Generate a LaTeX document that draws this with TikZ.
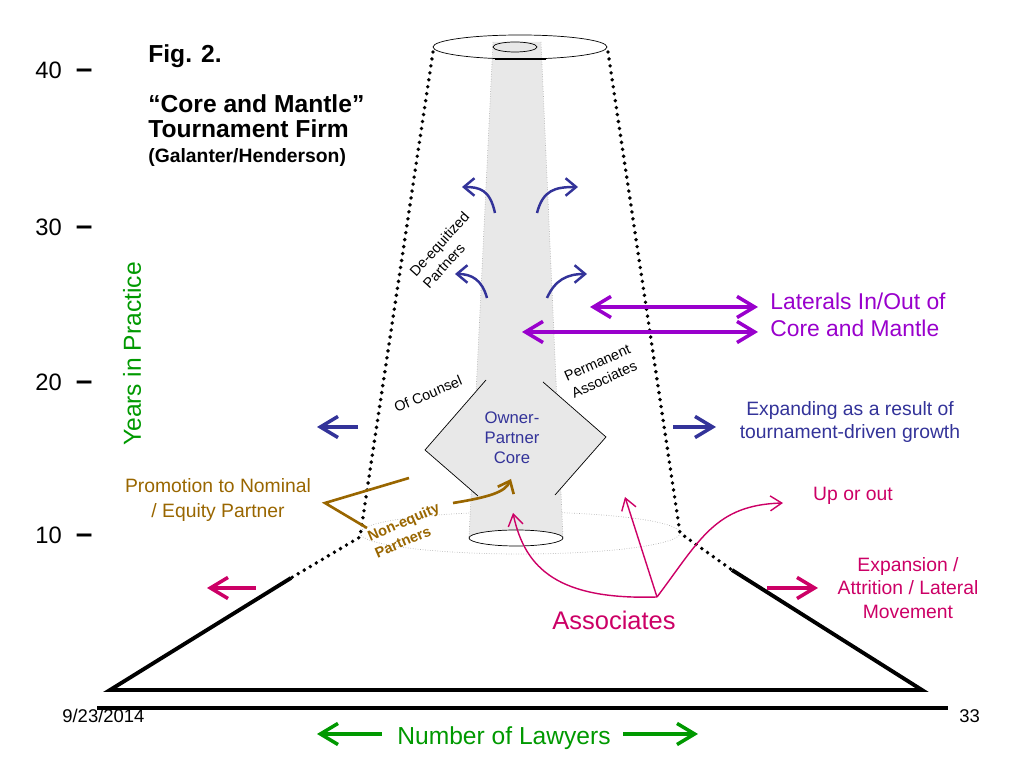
\documentclass[tikz,border=0pt]{standalone}
\usepackage{fontspec}
\setmainfont{Liberation Sans}
\usepackage{xcolor}
\usetikzlibrary{arrows.meta}

\definecolor{coreblue}{RGB}{51,51,153}
\definecolor{lateralpurple}{RGB}{153,0,204}
\definecolor{assocred}{RGB}{204,0,102}
\definecolor{promobrown}{RGB}{153,102,0}
\definecolor{axisgreen}{RGB}{0,153,0}
\definecolor{coregray}{RGB}{232,232,232}

\begin{document}
\begin{tikzpicture}[x=0.2mm, y=-0.2mm,
    txt/.style={inner sep=0pt, align=center},
    slanted/.style={inner sep=0pt, align=left, font=\fontsize{8.2}{10.3}\selectfont},
    yearmark/.style={anchor=west, inner sep=0pt, font=\fontsize{13.5}{15}\selectfont},
    headline/.style={anchor=base west, inner sep=0pt, font=\bfseries\fontsize{14}{16}\selectfont},
    mantle/.style={line width=2.2pt, line cap=round, dash pattern=on 0pt off 4pt},
    floor/.style={line width=2.2pt},
    bigarrow/.style={->, >={Straight Barb[length=10pt, width=12pt]}, line width=2pt},
    bothways/.style={<->, >={Straight Barb[length=10pt, width=12pt]}, line width=2pt},
    curly/.style={->, >={Straight Barb[length=6pt, width=10pt]}, line width=1.4pt},
    thinarrow/.style={->, >={Straight Barb[length=6.5pt, width=8.5pt]}, line width=0.8pt}
]
\useasboundingbox (0,0) rectangle (1024,768);

% axis marks and title
\foreach \yr/\yy in {40/70, 30/227, 20/382, 10/535}
  \node[yearmark] (y\yr) at (35,\yy) {\yr\hspace{8pt}{\bfseries\fontsize{17}{17}\selectfont –}};
\node[txt, rotate=90, axisgreen, font=\fontsize{14}{16}\selectfont] (years) at (132,354) {Years in Practice};
\node[headline] (fig) at (148,63) {Fig. 2.};
\node[headline] (core) at (148,113) {“Core and Mantle”};
\node[headline] (firm) at (148,138) {Tournament Firm};
\node[headline, font=\bfseries\fontsize{11}{12}\selectfont] (authors) at (148,163) {(Galanter/Henderson)};

% the core column
\coordinate (ctl) at (493,42);
\coordinate (ctr) at (541,42);
\coordinate (cbl) at (469,538);
\coordinate (cbr) at (563,538);
\coordinate (dl1) at (486,380);
\coordinate (dlv) at (425,450);
\coordinate (dl2) at (478,496);
\coordinate (dr1) at (543,382);
\coordinate (drv) at (606,437);
\coordinate (dr2) at (555,495);

\draw[gray!60, densely dotted, thin] (520,533) ellipse [x radius=160, y radius=21];
\fill[coregray] (ctl) -- (ctr) -- (cbr) -- (cbl) -- cycle;
\draw[gray!60, densely dotted, thin] (ctl) -- (cbl) (ctr) -- (cbr);
\fill[coregray] (dl1) -- (dlv) -- (dl2) -- (500,496) -- (500,380) -- cycle;
\fill[coregray] (dr1) -- (drv) -- (dr2) -- (530,495) -- (530,382) -- cycle;
\draw[thin] (dl1) -- (dlv) -- (dl2);
\draw[thin] (dr1) -- (drv) -- (dr2);

\draw[thin] (520,47) ellipse [x radius=87, y radius=12];
\draw[thin] (515,47) ellipse [x radius=22, y radius=5];
\draw[line width=1.6pt] (495,59) -- (546,59);
\draw[thin, fill=white] (516,538) ellipse [x radius=47, y radius=8];

% mantle and base
\coordinate (mtl) at (433,52);
\coordinate (mtr) at (608,52);
\coordinate (mbl) at (360,537);
\coordinate (mbr) at (680,533);
\coordinate (sl) at (291,578);
\coordinate (sr) at (732,570);
\coordinate (fl) at (110,690);
\coordinate (fr) at (922,690);
\coordinate (rl) at (97,708);
\coordinate (rr) at (948,708);
\draw[mantle] (mtl) -- (mbl) -- (sl);
\draw[mantle] (mtr) -- (mbr) -- (sr);
\draw[floor] (sl) -- (fl) -- (fr) -- (sr);
\draw[floor] (rl) -- (rr);

\node[anchor=base west, inner sep=0pt, font=\fontsize{10.5}{12}\selectfont] (date) at (62,723) {9/23/2014};
\node[anchor=base west, inner sep=0pt, font=\fontsize{10.5}{12}\selectfont] (page) at (959,723) {33};

% labels in the core
\node[txt, coreblue, font=\fontsize{9.5}{11.3}\selectfont] (owner) at (512,438) {Owner-\\Partner\\Core};
\node[slanted, rotate=23] (counsel) at (428,394) {Of Counsel};
\node[slanted, rotate=24] (perm) at (601,371) {Permanent\\Associates};
\node[slanted, rotate=48] (deeq) at (446,250) {De-equitized\\Partners};

% de-equitized partners leaving the core
\draw[curly, coreblue] (495,213) .. controls (490,190) and (480,187) .. (462,187);
\draw[curly, coreblue] (537,213) .. controls (543,190) and (555,187) .. (578,187);
\draw[curly, coreblue] (487,298) .. controls (482,280) and (472,274) .. (455,274);
\draw[curly, coreblue] (547,298) .. controls (555,280) and (567,274) .. (587,274);

% laterals
\coordinate (lat1a) at (590,307);
\coordinate (lat2a) at (522,332);
\node[txt, anchor=west, align=left, lateralpurple, font=\fontsize{13}{15}\selectfont] (laterals) at (770,315) {Laterals In/Out of\\Core and Mantle};
\draw[bothways, lateralpurple] (lat1a) -- (758,307);
\draw[bothways, lateralpurple] (lat2a) -- (758,332);

% expansion of the mantle
\node[txt, coreblue, font=\fontsize{11}{13}\selectfont] (expanding) at (850,422) {Expanding as a result of\\tournament-driven growth};
\coordinate (gl0) at (358,427);
\coordinate (gl1) at (317,427);
\coordinate (gr0) at (673,427);
\coordinate (gr1) at (716,427);
\draw[bigarrow, coreblue] (gl0) -- (gl1);
\draw[bigarrow, coreblue] (gr0) -- (gr1);

% non-equity partners
\node[txt, promobrown, font=\fontsize{11}{14}\selectfont] (promo) at (218,500) {Promotion to Nominal\\/ Equity Partner};
\node[slanted, rotate=23, promobrown, font=\bfseries\fontsize{8.3}{10.3}\selectfont] (nonequity) at (407,530) {Non-equity\\Partners};
\coordinate (pv) at (325,503);
\draw[promobrown, line width=1.5pt] (409,478) -- (pv) -- (367,528);
\draw[curly, promobrown, line width=1.5pt] (453,503) .. controls (490,497) and (505,492) .. (511,479);

% associates
\node[txt, assocred, font=\fontsize{14.5}{16}\selectfont] (assoc) at (614,620) {Associates};
\node[txt, assocred, font=\fontsize{11}{13}\selectfont] (upout) at (853,496) {Up or out};
\coordinate (hub) at (657,597);
\draw[thinarrow, assocred] (hub) .. controls (560,600) and (525,570) .. (513,513);
\draw[thinarrow, assocred] (hub) -- (625,497);
\draw[thinarrow, assocred] (hub) .. controls (700,540) and (715,505) .. (783,503);

\node[txt, assocred, font=\fontsize{11}{13.4}\selectfont] (attrition) at (908,588) {Expansion /\\Attrition / Lateral\\Movement};
\coordinate (al0) at (256,588);
\coordinate (al1) at (207,588);
\coordinate (ar0) at (767,588);
\coordinate (ar1) at (818,588);
\draw[bigarrow, assocred] (al0) -- (al1);
\draw[bigarrow, assocred] (ar0) -- (ar1);

% number of lawyers
\node[anchor=base, inner sep=0pt, axisgreen, font=\fontsize{14}{15}\selectfont] (lawyers) at (504,745) {Number of Lawyers};
\draw[bigarrow, axisgreen] (382,734) -- (317,734);
\draw[bigarrow, axisgreen] (623,734) -- (698,734);
\end{tikzpicture}
\end{document}
